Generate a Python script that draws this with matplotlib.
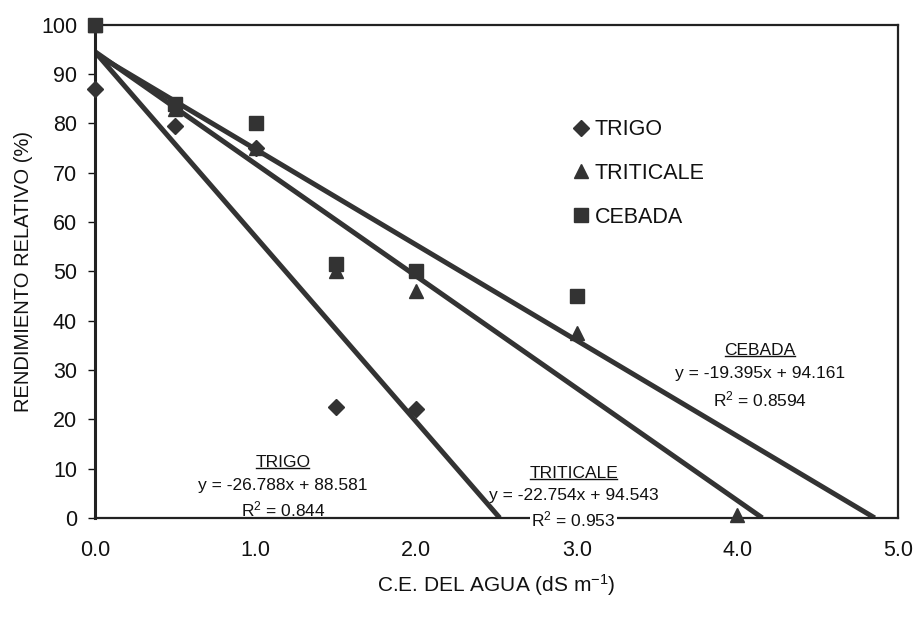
import matplotlib
matplotlib.use("Agg")
import matplotlib.pyplot as plt
import numpy as np

plt.rcParams['font.family'] = ['Liberation Sans', 'DejaVu Sans']
plt.rcParams['mathtext.fontset'] = 'custom'
plt.rcParams['mathtext.rm'] = 'Liberation Sans'
plt.rcParams['mathtext.it'] = 'Liberation Sans'
plt.rcParams['mathtext.bf'] = 'Liberation Sans:bold'

# Data
trigo_x = [0.0, 0.5, 1.0, 1.5, 2.0]
trigo_y = [87, 79.5, 75, 22.5, 22]
triticale_x = [0.0, 0.5, 1.0, 1.5, 2.0, 3.0, 4.0]
triticale_y = [100, 83, 75, 50, 46, 37.5, 0.5]
cebada_x = [0.0, 0.5, 1.0, 1.5, 2.0, 3.0]
cebada_y = [100, 84, 80, 51.5, 50, 45]

# Drawn trend lines (intercept, slope) as they appear in the figure
trigo_line = (94.5, -37.5)
triticale_line = (94.543, -22.754)
cebada_line = (94.161, -19.395)

labels = ["TRIGO", "TRITICALE", "CEBADA"]
equations = ["y = -26.788x + 88.581", "y = -22.754x + 94.543", "y = -19.395x + 94.161"]
r2 = ["0.844", "0.953", "0.8594"]

x_ticks = [0, 1, 2, 3, 4, 5]
x_ticklabels = ["0.0", "1.0", "2.0", "3.0", "4.0", "5.0"]
y_ticks = list(range(0, 101, 10))

ink = "#333333"
txt = "#111111"
fig = plt.figure(figsize=(9.14, 6.21), dpi=100)
ax = fig.add_axes([0.104, 0.166, 0.8785, 0.794])

def draw_line(line):
    b, m = line
    x1 = min(5.0, -b / m)
    xs = np.array([0.0, x1])
    ax.plot(xs, b + m * xs, color=ink, lw=3.6, solid_capstyle='butt', zorder=2)

draw_line(trigo_line)
draw_line(triticale_line)
draw_line(cebada_line)

ax.plot(triticale_x, triticale_y, '^', color=ink, ms=10, ls='none', label=labels[1], zorder=3, clip_on=False)
ax.plot(cebada_x, cebada_y, 's', color=ink, ms=10, ls='none', label=labels[2], zorder=4, clip_on=False)
ax.plot(trigo_x, trigo_y, 'D', color=ink, ms=8, ls='none', label=labels[0], zorder=5, clip_on=False)

ax.set_xlim(0, 5)
ax.set_ylim(0, 100)
ax.set_xticks(x_ticks)
ax.set_xticklabels(x_ticklabels)
ax.set_yticks(y_ticks)
ax.tick_params(axis='y', direction='out', length=5, width=1, labelsize=15.5, pad=8, colors=txt)
ax.tick_params(axis='x', direction='out', length=0, labelsize=15.5, pad=16, colors=txt)
for s in ax.spines.values():
    s.set_linewidth(1.6)
    s.set_color('#222222')
ax.spines['left'].set_linewidth(2.2)

ax.set_xlabel("C.E. DEL AGUA (dS m$^{-1}$)", fontsize=15, color=txt, labelpad=8)
ax.set_ylabel("RENDIMIENTO RELATIVO (%)", fontsize=14.5, color=txt, labelpad=6)

handles, labs = ax.get_legend_handles_labels()
order = [labs.index(l) for l in labels]
leg = ax.legend([handles[i] for i in order], [labs[i] for i in order],
                loc='upper left', bbox_to_anchor=(0.581, 0.83), frameon=False,
                fontsize=15.5, handlelength=0.8, handletextpad=0.25, labelspacing=1.05,
                borderpad=0)
for t in leg.get_texts():
    t.set_color(txt)

# annotation centers: (x, title y, equation y, R2 y)
ann = [
    (1.17, 11.2, 6.5, 1.8, 0),
    (2.98, 9.1, 4.5, -0.4, 1),
    (4.14, 33.9, 29.2, 24.1, 2),
]
texts_to_underline = []
for (x, yt, ye, yr, i) in ann:
    t = ax.text(x, yt, labels[i], ha='center', va='center', fontsize=12.5, color=txt)
    texts_to_underline.append(t)
    ax.text(x, ye, equations[i], ha='center', va='center', fontsize=12.5, color=txt)
    kw = {}
    if yr < 1.0:
        kw = dict(bbox=dict(facecolor='white', edgecolor='none', pad=1.0))
    ax.text(x, yr, "R$^{2}$ = " + r2[i], ha='center', va='center', fontsize=12.5, color=txt,
            zorder=7, clip_on=False, **kw)

fig.canvas.draw()
r = fig.canvas.get_renderer()
inv = ax.transData.inverted()
for t in texts_to_underline:
    bb = t.get_window_extent(renderer=r)
    (x0, y0) = inv.transform((bb.x0 + 1, bb.y0 + 2))
    (x1, _) = inv.transform((bb.x1 - 1, bb.y0 + 2))
    ax.plot([x0, x1], [y0, y0], color=txt, lw=1.0, zorder=6, clip_on=False)

fig.savefig("out.png", dpi=100, facecolor='white')
